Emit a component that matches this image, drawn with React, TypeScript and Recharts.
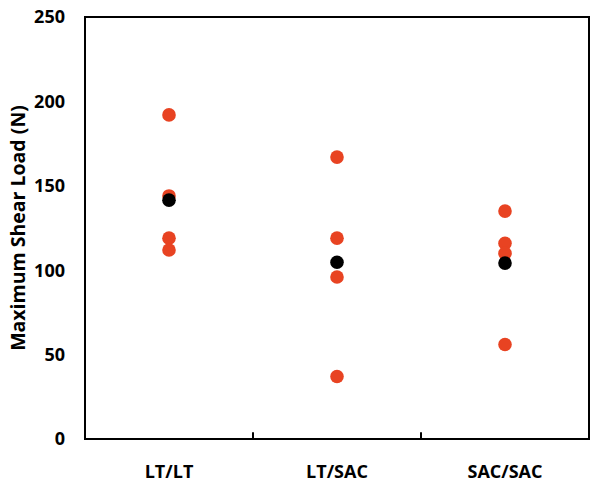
import React from 'react';
import { ScatterChart, Scatter, XAxis, YAxis, ReferenceArea, ReferenceLine } from 'recharts';

const categories = ['LT/LT', 'LT/SAC', 'SAC/SAC'];
const ltltValues = [192, 144, 119, 112];
const ltsacValues = [167, 119, 96, 37];
const sacsacValues = [135, 116, 110, 56];
const meanValues = [141.5, 104.7, 104.2];
const yTicks = [0, 50, 100, 150, 200, 250];

const groups = [ltltValues, ltsacValues, sacsacValues];
const redData = groups.flatMap((vals, i) => vals.map((v) => ({ x: i + 1, y: v })));
const meanData = meanValues.map((v, i) => ({ x: i + 1, y: v }));
const boundaries = categories.slice(0, -1).map((_, i) => i + 1.5);

const font = { fontFamily: '"Open Sans", sans-serif', fontWeight: 700, fontSize: 18, fill: '#000' };
const labelFont = { ...font, fontSize: 19.5 };

const YLabel = (props: any) => {
  const vb = props.viewBox || {};
  const cx = (vb.x ?? 0) + 17;
  const cy = (vb.y ?? 0) + (vb.height ?? 0) / 2;
  return (
    <text x={cx} y={cy} transform={`rotate(-90 ${cx} ${cy})`} textAnchor="middle" dominantBaseline="central" style={labelFont}>
      Maximum Shear Load (N)
    </text>
  );
};

const dot = (color: string) => (p: any) => <circle cx={p.cx} cy={p.cy} r={6.8} fill={color} />;

export default function App() {
  return (
    <div style={{ position: 'absolute', left: 0, top: 0, background: '#fff' }}>
      <ScatterChart width={600} height={485} margin={{ top: 17, right: 11, bottom: 0, left: 0 }}>
        <XAxis
          type="number"
          dataKey="x"
          domain={[0.5, 3.5]}
          ticks={[1, 2, 3]}
          tickFormatter={(v: number) => categories[v - 1]}
          axisLine={false}
          tickLine={false}
          tickSize={0}
          tickMargin={26}
          height={46}
          tick={font}
        />
        <YAxis
          type="number"
          dataKey="y"
          domain={[0, 250]}
          ticks={yTicks}
          axisLine={false}
          tickLine={false}
          tickSize={0}
          tickMargin={20}
          width={85}
          tick={font}
          label={<YLabel />}
        />
        <ReferenceArea x1={0.5} x2={3.5} y1={0} y2={250} fill="none" stroke="#000" strokeWidth={2} ifOverflow="visible" />
        {boundaries.map((b) => (
          <ReferenceLine key={b} segment={[{ x: b, y: 0 }, { x: b, y: 4 }]} stroke="#000" strokeWidth={2} ifOverflow="visible" />
        ))}
        <Scatter data={redData} fill="#E84322" shape={dot('#E84322')} isAnimationActive={false} />
        <Scatter data={meanData} fill="#000" shape={dot('#000')} isAnimationActive={false} />
      </ScatterChart>
    </div>
  );
}
